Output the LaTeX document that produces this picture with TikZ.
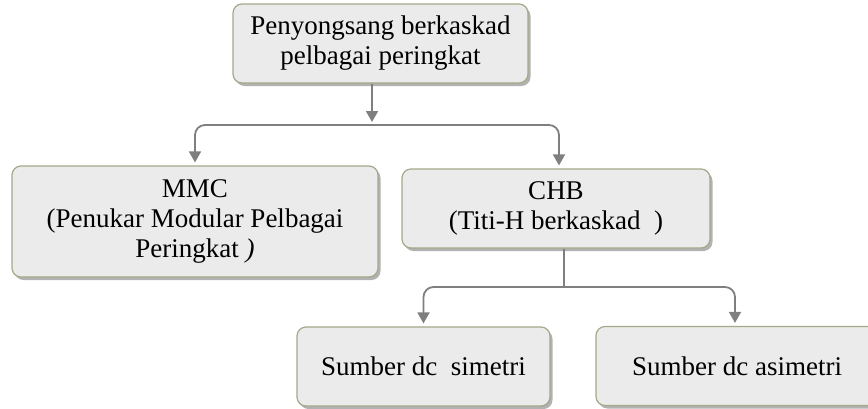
\documentclass[tikz,border=0pt]{standalone}
\usepackage{fontspec}
\setmainfont{Liberation Serif}
\usetikzlibrary{arrows.meta,shadows,positioning}
\definecolor{boxfill}{HTML}{EBEBEB}
\definecolor{boxdraw}{HTML}{A5A88A}
\definecolor{conncol}{HTML}{7F7F7F}
\tikzset{
  box/.style={draw=boxdraw, line width=1.2pt, fill=boxfill, rounded corners=9pt,
    align=center, inner sep=2pt, font=\fontsize{27}{30}\selectfont,
    drop shadow={shadow xshift=2.5pt, shadow yshift=-3pt, fill=black!30, opacity=1}},
  conn/.style={draw=conncol, line width=1.8pt},
  arr/.style={conn, -{Triangle[length=11pt,width=12pt]}, shorten >=3pt},
  darr/.style={conn, {Triangle[length=11pt,width=12pt]}-{Triangle[length=11pt,width=12pt]}, shorten >=3pt, shorten <=3pt, rounded corners=10pt}
}
\begin{document}
\begin{tikzpicture}[x=1pt,y=1pt]
\useasboundingbox (0,0) rectangle (868,-408);
\clip (0,0) rectangle (868,-408);
\node[box, minimum width=295pt, minimum height=79pt] (top) at (380.5,-43.5) {Penyongsang berkaskad\\pelbagai peringkat};
\node[box, minimum width=366pt, minimum height=111pt] (mmc) at (195,-221.5) {MMC\\(Penukar Modular Pelbagai\\Peringkat \textit{)}};
\node[box, minimum width=308pt, minimum height=79pt] (chb) at (556,-208.5) {CHB\\(Titi-H berkaskad~~)};
\node[box, minimum width=253pt, minimum height=79pt] (sim) at (423.5,-366.5) {Sumber dc~~simetri};
\node[box, minimum width=282pt, minimum height=79pt] (asim) at (737,-366) {Sumber dc asimetri};
\coordinate (j1) at (372,-125);
\coordinate (j2) at (564,-287);
\draw[arr] (top.south -| j1) -- (j1);
\draw[darr] (mmc.north) |- (j1) -| (chb.north -| 559,0);
\draw[conn] (chb.south -| j2) -- (j2);
\draw[darr] (sim.north) |- (j2) -| (asim.north -| 735,0);
\end{tikzpicture}
\end{document}
